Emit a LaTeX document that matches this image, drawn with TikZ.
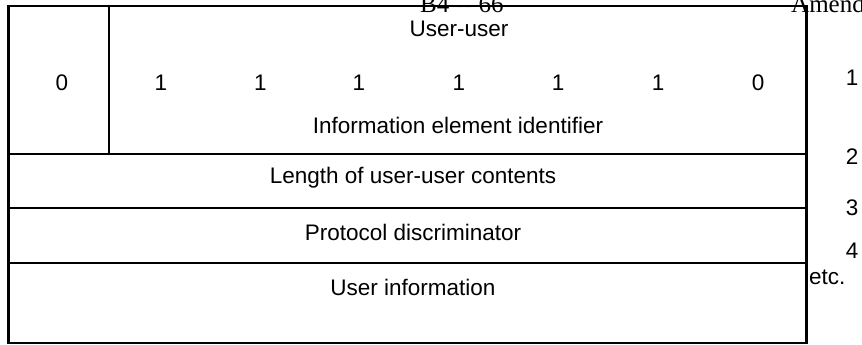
\documentclass[tikz,border=0pt]{standalone}
\usepackage{fontspec}
\setmainfont{Liberation Sans}
\newfontfamily\pageserif{Liberation Serif}
\begin{document}
\begin{tikzpicture}[x=1pt,y=-1pt,
  rule/.style={line width=2.2pt, line cap=rect},
  field/.style={anchor=base, inner sep=0pt, font=\fontsize{22.5}{27}\selectfont},
  octet/.style={anchor=base, inner sep=0pt, font=\fontsize{22.5}{27}\selectfont},
  header/.style={anchor=base west, inner sep=0pt, font=\pageserif\fontsize{25}{30}\selectfont}]
  \useasboundingbox (0,0) rectangle (862,345);
  \clip (0,0) rectangle (862,345);

  % frame of the information element
  \coordinate (tl) at (8.5,6);
  \coordinate (br) at (806.5,343);
  \draw[rule] (tl) rectangle (br);
  \draw[rule] (108.7,6) -- (108.7,154);
  \draw[rule] (8.5,154) -- (806.5,154);
  \draw[rule] (8.5,208) -- (806.5,208);
  \draw[rule] (8.5,262.7) -- (806.5,262.7);

  % running header of the page, printed over the frame
  \node[header] (hdr) at (420,13) {B4 -- 66};
  \node[header] (amd) at (791,13) {Amendment};

  % octet 1: identifier bits
  \node[field] (uu) at (459,37) {User-user};
  \node[octet] (b8) at (62,90) {0};
  \node[octet] (b7) at (161,90) {1};
  \node[octet] (b6) at (260.5,90) {1};
  \node[octet] (b5) at (359,90) {1};
  \node[octet] (b4) at (459,90) {1};
  \node[octet] (b3) at (558,90) {1};
  \node[octet] (b2) at (658,90) {1};
  \node[octet] (b1) at (758,90) {0};
  \node[field] (iei) at (458,133) {Information element identifier};

  % following octets
  \node[field] (len) at (413,183) {Length of user-user contents};
  \node[field] (pd) at (413,240) {Protocol discriminator};
  \node[field] (ui) at (413,295) {User information};

  % octet numbers
  \node[octet] (o1) at (852,85) {1};
  \node[octet] (o2) at (852,164) {2};
  \node[octet] (o3) at (852,215) {3};
  \node[octet] (o4) at (852,258) {4};
  \node[field, anchor=base west] (etc) at (809,284) {etc.};
\end{tikzpicture}
\end{document}
